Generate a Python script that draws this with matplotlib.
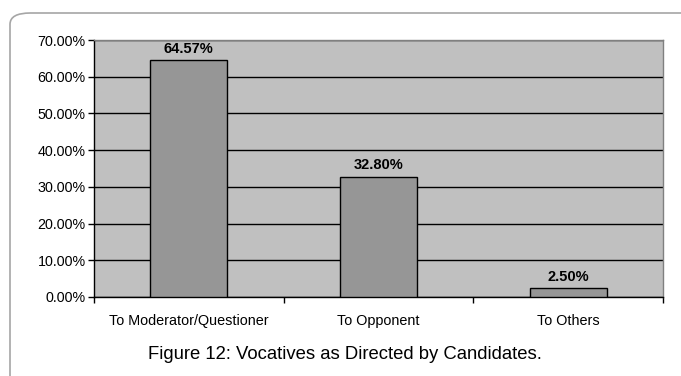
import matplotlib
matplotlib.use("Agg")
import matplotlib.pyplot as plt
from matplotlib.patches import FancyBboxPatch

categories = ["To Moderator/Questioner", "To Opponent", "To Others"]
values = [64.57, 32.80, 2.50]
yticks = [0, 10, 20, 30, 40, 50, 60, 70]
caption = "Figure 12: Vocatives as Directed by Candidates."

W, H = 681, 376
fig = plt.figure(figsize=(W / 100, H / 100), dpi=100)
plt.rcParams['font.family'] = ['Liberation Sans', 'DejaVu Sans']

# rounded outer frame
frame = FancyBboxPatch((10 / W, -0.2), 1.2, (H - 13) / H + 0.2,
                       boxstyle="round,pad=0,rounding_size=0.03",
                       transform=fig.transFigure, fill=False,
                       edgecolor="#a6a6a6", linewidth=1.2, zorder=0)
fig.patches.append(frame)

ax = fig.add_axes([94 / W, 1 - 297 / H, (663 - 94) / W, (297 - 40) / H])
ax.set_facecolor("#C0C0C0")
x = list(range(len(categories)))
bars = ax.bar(x, values, width=0.405, color="#969696", edgecolor="black",
              linewidth=1.0, zorder=3)
ax.set_xlim(-0.5, len(categories) - 0.5)
ax.set_ylim(0, 70)
ax.set_yticks(yticks)
ax.set_yticklabels([f"{v:.2f}%" for v in yticks], fontsize=10.3)
ax.yaxis.grid(True, color="black", linewidth=1.0, zorder=1)
ax.set_axisbelow(True)

ax.set_xticks(x)
ax.set_xticklabels(categories, fontsize=10.4)
ax.tick_params(axis='x', length=0, pad=12)
ax.set_xticks([-0.5, 0.5, 1.5, 2.5], minor=True)
ax.tick_params(axis='x', which='minor', length=4, width=1, direction='out')
ax.tick_params(axis='y', length=4, width=1, direction='out', pad=2)

for s in ['left', 'bottom']:
    ax.spines[s].set_color("black")
    ax.spines[s].set_linewidth(1.0)
for s in ['top', 'right']:
    ax.spines[s].set_color("#808080")
    ax.spines[s].set_linewidth(1.0)

for b, v in zip(bars, values):
    ax.annotate(f"{v:.2f}%", (b.get_x() + b.get_width() / 2, v),
                xytext=(0, 3), textcoords="offset points",
                ha="center", va="bottom", fontsize=10.5, fontweight="bold")

fig.text(345 / W, 1 - 359 / H, caption, ha="center", va="baseline", fontsize=13.3)

fig.savefig("out.png", dpi=100)
